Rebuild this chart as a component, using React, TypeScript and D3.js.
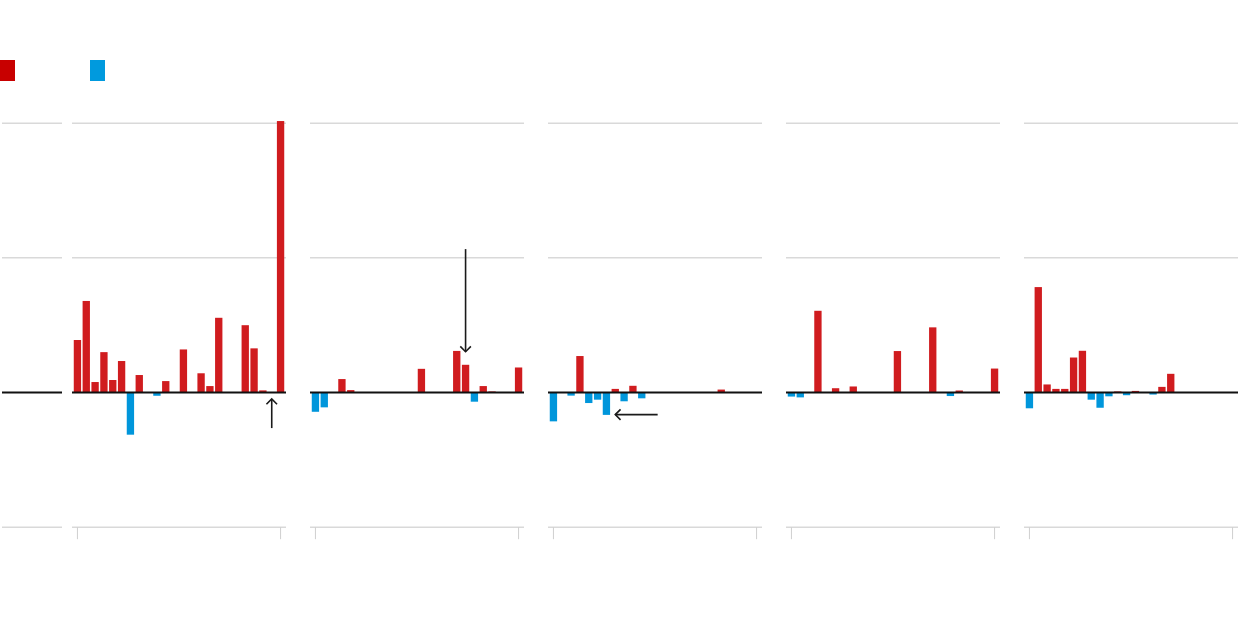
import React from "react";
import * as d3 from "d3";

const WIDTH = 1240;
const HEIGHT = 624;

// y gridline values (unlabelled in the reference)
const yTicks = [-1, 0, 1, 2];

// five panels, 24 periods each (positive = red, negative = blue)
const panel1 = [0.39, 0.68, 0.078, 0.3, 0.093, 0.234, -0.313, 0.13, 0, -0.024, 0.085, 0, 0.32, 0, 0.143, 0.048, 0.555, 0, 0, 0.5, 0.328, 0.016, 0, 2.016];
const panel2 = [-0.143, -0.11, 0, 0.1, 0.018, 0, 0, 0, 0, 0, 0, 0, 0.176, 0, 0, 0, 0.309, 0.206, -0.068, 0.048, 0.008, 0, 0, 0.186];
const panel3 = [-0.214, 0, -0.023, 0.271, -0.078, -0.053, -0.166, 0.027, -0.065, 0.05, -0.043, 0, 0, 0, 0, 0, 0, 0, 0, 0.022, 0, 0, 0, 0];
const panel4 = [-0.03, -0.036, 0, 0.607, 0, 0.032, 0, 0.045, 0, 0, 0, 0, 0.308, 0, 0, 0, 0.484, 0, -0.026, 0.015, 0, 0, 0, 0.178];
const panel5 = [-0.117, 0.783, 0.06, 0.027, 0.027, 0.26, 0.31, -0.053, -0.113, -0.028, 0.008, -0.02, 0.012, 0, -0.015, 0.042, 0.139, 0, 0, 0, 0, 0, 0, 0];

const panels = [panel1, panel2, panel3, panel4, panel5];

// annotation arrows: panel, x positions (period index), y values
const arrows = [
  { panel: 0, i1: 22, i2: 22, v1: -0.264, v2: -0.048 },
  { panel: 1, i1: 17, i2: 17, v1: 1.065, v2: 0.303 },
  { panel: 2, i1: 11.8, i2: 7, v1: -0.164, v2: -0.164 },
];

const RED = "#d01c1f";
const BLUE = "#0096db";
const GRID = "#d9d9d9";

export default function App() {
  const panelW = 214;
  const gap = 24;
  const firstX = 72;
  const y = d3.scaleLinear().domain([-1, 2]).range([527.2, 123.2]);
  const idx = d3.range(24);

  return (
    <svg
      width={WIDTH}
      height={HEIGHT}
      style={{ position: "absolute", left: 0, top: 0, display: "block", background: "#fff" }}
    >
      {/* legend */}
      <rect x={0} y={60} width={15} height={21} fill="#c80000" />
      <rect x={90} y={60} width={15} height={21} fill="#009ade" />

      {/* left axis stub */}
      {yTicks.map((t) => (
        <line
          key={"l" + t}
          x1={2}
          x2={62}
          y1={y(t)}
          y2={y(t)}
          stroke={t === 0 ? "#111" : GRID}
          strokeWidth={t === 0 ? 2 : 1.5}
        />
      ))}

      {panels.map((vals, p) => {
        const x0 = firstX + p * (panelW + gap);
        const x = d3
          .scaleBand<number>()
          .domain(idx)
          .range([x0, x0 + panelW])
          .paddingInner(0.17)
          .paddingOuter(0.2);
        const bw = x.bandwidth();
        const ticks = [idx[0], idx[idx.length - 1]];
        return (
          <g key={p}>
            {yTicks
              .filter((t) => t !== 0)
              .map((t) => (
                <line key={t} x1={x0} x2={x0 + panelW} y1={y(t)} y2={y(t)} stroke={GRID} strokeWidth={1.5} />
              ))}
            {ticks.map((t) => (
              <line
                key={"tk" + t}
                x1={(x(t) as number) + bw / 2}
                x2={(x(t) as number) + bw / 2}
                y1={y(-1)}
                y2={y(-1) + 12}
                stroke="#cfcfcf"
                strokeWidth={1}
              />
            ))}
            {vals.map((v, i) =>
              v === 0 ? null : (
                <rect
                  key={i}
                  x={x(i)}
                  width={bw}
                  y={Math.min(y(v), y(0))}
                  height={Math.abs(y(v) - y(0))}
                  fill={v > 0 ? RED : BLUE}
                />
              )
            )}
            <line x1={x0} x2={x0 + panelW} y1={y(0)} y2={y(0)} stroke="#111" strokeWidth={2} />
            {arrows
              .filter((a) => a.panel === p)
              .map((a, k) => {
                const step = x.step();
                const px = (i: number) => (x(0) as number) + i * step + bw / 2;
                const xa = px(a.i1);
                const xb = px(a.i2);
                const ya = y(a.v1);
                const yb = y(a.v2);
                const ang = Math.atan2(yb - ya, xb - xa);
                const L = 7.5;
                const h1 = [xb - L * Math.cos(ang - Math.PI / 4), yb - L * Math.sin(ang - Math.PI / 4)];
                const h2 = [xb - L * Math.cos(ang + Math.PI / 4), yb - L * Math.sin(ang + Math.PI / 4)];
                return (
                  <g key={"a" + k} stroke="#1a1a1a" strokeWidth={1.6} fill="none">
                    <line x1={xa} y1={ya} x2={xb} y2={yb} />
                    <polyline points={`${h1[0]},${h1[1]} ${xb},${yb} ${h2[0]},${h2[1]}`} />
                  </g>
                );
              })}
          </g>
        );
      })}
    </svg>
  );
}
